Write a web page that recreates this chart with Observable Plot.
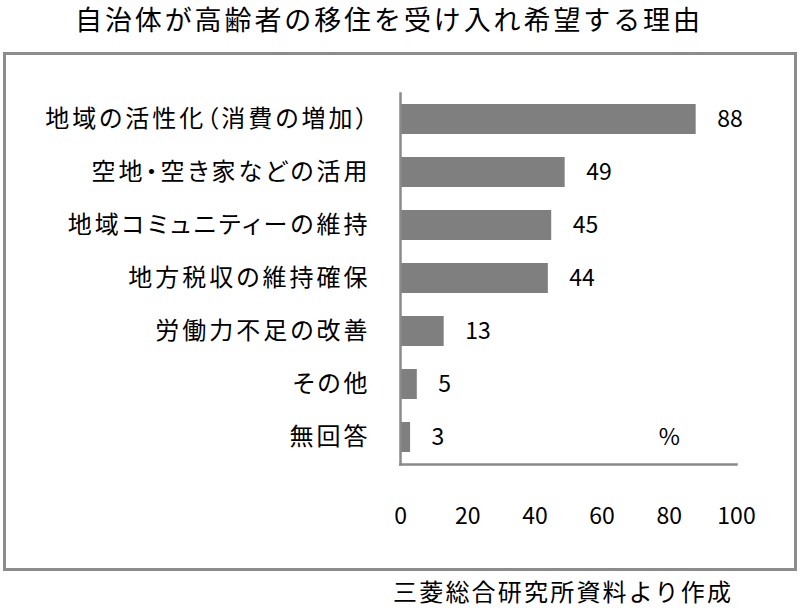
<!DOCTYPE html>
<html>
<head>
<meta charset="utf-8">
<script src="https://cdn.jsdelivr.net/npm/d3@7"></script>
<script src="https://cdn.jsdelivr.net/npm/@observablehq/plot@0.6"></script>
<style>
  html, body { margin: 0; padding: 0; background: #fff; }
  body { width: 800px; height: 608px; position: relative; overflow: hidden; font-family: "Noto Sans CJK JP", sans-serif; color: #000; }
  #title { position: absolute; left: 75px; top: 0; line-height: 38px; font-size: 27px; letter-spacing: 2.9px; white-space: nowrap; }
  #box { position: absolute; left: 3px; top: 52px; width: 794px; height: 519px; box-sizing: border-box; border: 3px solid #8c8c8c; }
  #chart { position: absolute; left: 0; top: 52px; }
  #caption { position: absolute; left: 393px; top: 575px; line-height: 32px; font-size: 24px; letter-spacing: 2.2px; white-space: nowrap; }
  [aria-label="y-axis tick label"] text { letter-spacing: 3px; font-feature-settings: "palt"; }
</style>
</head>
<body>
<div id="title">自治体が高齢者の移住を受け入れ希望する理由</div>
<div id="box"></div>
<div id="chart"></div>
<div id="caption">三菱総合研究所資料より作成</div>
<script>
const categories = ["地域の活性化（消費の増加）", "空地・空き家などの活用", "地域コミュニティーの維持", "地方税収の維持確保", "労働力不足の改善", "その他", "無回答"];
const values = [88, 49, 45, 44, 13, 5, 3];
const xTicks = [0, 20, 40, 60, 80, 100];
const unitLabel = "%";
const unitAt = {x: 80, y: "無回答"};

const data = categories.map((name, i) => ({name, value: values[i]}));

const chart = Plot.plot({
  width: 800,
  height: 500,
  marginLeft: 400,
  marginRight: 64,
  marginTop: 41,
  marginBottom: 88,
  style: {fontFamily: "Noto Sans CJK JP, sans-serif", color: "#000", background: "transparent", overflow: "visible"},
  x: {domain: [0, 100]},
  y: {domain: categories, paddingInner: 0.43, paddingOuter: 0.215},
  marks: [
    Plot.barX(data, {x: "value", y: "name", fill: "#7f7f7f"}),
    Plot.frame({anchor: "left", stroke: "#8a8a8a", strokeWidth: 2.5}),
    Plot.frame({anchor: "bottom", stroke: "#8a8a8a", strokeWidth: 2.5}),
    Plot.text(data, {x: "value", y: "name", text: d => String(d.value), dx: 21, textAnchor: "start", fontSize: 23, fill: "#000"}),
    Plot.text([unitAt], {x: "x", y: "y", text: () => unitLabel, fontSize: 23, fill: "#000"}),
    Plot.axisX({ticks: xTicks, tickSize: 0, tickPadding: 43, fontSize: 23, label: null}),
    Plot.axisY({tickSize: 0, tickPadding: 30, fontSize: 24, label: null})
  ]
});
document.getElementById("chart").appendChild(chart);
</script>
</body>
</html>
